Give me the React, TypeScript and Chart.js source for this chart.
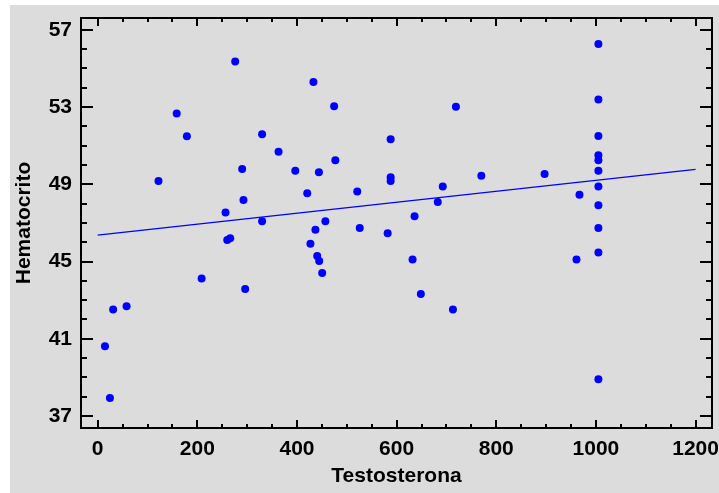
import React, { useEffect, useRef } from "react";
import { Chart, registerables } from "chart.js";

Chart.register(...registerables);

// Data
const testosterona = [
  122, 158.6, 179, 276, 256.6, 260, 266, 290, 292.6, 330, 330, 363, 396.6, 433, 420.6, 444,
  474.6, 477, 457, 437, 427, 440.6, 444.6, 450.6, 208.6, 296, 31, 58, 14.6, 24.6, 521, 526,
  588, 588, 588, 719, 770, 897, 692.6, 682.6, 636, 582, 967, 1005, 1005, 1005, 1005, 1005,
  1005, 1005, 1005, 1005, 1005, 1005, 632, 648.6, 713, 961,
];
const hematocrito = [
  49.17, 52.66, 51.49, 55.36, 47.54, 46.11, 46.2, 49.79, 48.18, 51.59, 47.08, 50.69, 49.7,
  54.29, 48.53, 49.62, 53.04, 50.24, 47.09, 46.64, 45.92, 45.29, 45.03, 44.4, 44.12, 43.58,
  42.51, 42.68, 40.61, 37.93, 48.63, 46.73, 51.33, 49.36, 49.17, 53.02, 49.44, 49.53, 48.89,
  48.08, 47.35, 46.47, 48.46, 56.27, 53.39, 51.5, 50.5, 50.24, 49.7, 48.89, 47.91, 46.73,
  45.47, 38.91, 45.11, 43.32, 42.51, 45.11,
];
// Fitted line end points
const fitX = [0, 1200];
const fitY = [46.37, 49.77];

const xTickValues = [0, 200, 400, 600, 800, 1000, 1200];
const yTickValues = [37, 41, 45, 49, 53, 57];
const X_MINOR_STEP = 50;
const Y_MINOR_STEP = 1;

const FONT = '"Liberation Sans", Arial, sans-serif';

const frameTicks = {
  id: "frameTicks",
  afterDatasetsDraw(chart: any) {
    const { ctx, chartArea: a, scales } = chart;
    const x = scales.x;
    const y = scales.y;
    ctx.save();
    ctx.strokeStyle = "#000";
    ctx.lineWidth = 2;
    ctx.beginPath();
    const xStart = Math.ceil(x.min / X_MINOR_STEP) * X_MINOR_STEP;
    for (let v = xStart; v <= x.max; v += X_MINOR_STEP) {
      const px = Math.round(x.getPixelForValue(v));
      const major = xTickValues.includes(v);
      const len = major ? 8 : 4;
      ctx.moveTo(px, a.bottom);
      ctx.lineTo(px, a.bottom - len);
      ctx.moveTo(px, a.top);
      ctx.lineTo(px, a.top + len);
    }
    const yStart = Math.ceil(y.min / Y_MINOR_STEP) * Y_MINOR_STEP;
    for (let v = yStart; v <= y.max; v += Y_MINOR_STEP) {
      const py = Math.round(y.getPixelForValue(v));
      const major = yTickValues.includes(v);
      const len = major ? 12 : 6;
      ctx.moveTo(a.left, py);
      ctx.lineTo(a.left + len, py);
      ctx.moveTo(a.right, py);
      ctx.lineTo(a.right - len, py);
    }
    ctx.stroke();
    ctx.strokeRect(a.left, a.top, a.right - a.left, a.bottom - a.top);
    ctx.restore();
  },
};

export default function App() {
  const ref = useRef<HTMLCanvasElement | null>(null);

  useEffect(() => {
    if (!ref.current) return;
    const points = testosterona.map((t, i) => ({ x: t, y: hematocrito[i] }));
    const fit = fitX.map((t, i) => ({ x: t, y: fitY[i] }));
    const chart = new Chart(ref.current, {
      type: "scatter",
      data: {
        datasets: [
          {
            type: "line",
            data: fit,
            borderColor: "#0000ff",
            borderWidth: 1.3,
            pointRadius: 0,
            fill: false,
            order: 2,
          } as any,
          {
            data: points,
            backgroundColor: "#0000ff",
            borderColor: "#0000ff",
            borderWidth: 0,
            pointRadius: 4,
            order: 1,
          },
        ],
      },
      options: {
        animation: false,
        responsive: false,
        devicePixelRatio: 1,
        layout: { padding: { left: 0, right: 7, top: 13, bottom: 0 } },
        plugins: { legend: { display: false }, tooltip: { enabled: false } },
        scales: {
          x: {
            type: "linear",
            min: -33.5,
            max: 1233,
            grid: { display: false, drawTicks: false },
            border: { display: false },
            afterBuildTicks: (s: any) => {
              s.ticks = xTickValues.map((v) => ({ value: v }));
            },
            afterFit: (s: any) => {
              s.height = 65;
              s.paddingLeft = 0;
              s.paddingRight = 0;
            },
            ticks: {
              color: "#000",
              padding: 9,
              maxRotation: 0,
              autoSkip: false,
              callback: (v: any) => String(v),
              font: { family: FONT, size: 21, weight: "bold" },
            },
            title: {
              display: true,
              text: "Testosterona",
              color: "#000",
              padding: { top: 0, bottom: 4 },
              font: { family: FONT, size: 21, weight: "bold" },
            },
          },
          y: {
            type: "linear",
            min: 36.38,
            max: 57.61,
            grid: { display: false, drawTicks: false },
            border: { display: false },
            afterBuildTicks: (s: any) => {
              s.ticks = yTickValues.map((v) => ({ value: v }));
            },
            afterFit: (s: any) => {
              s.width = 71;
              s.paddingTop = 0;
              s.paddingBottom = 0;
            },
            ticks: {
              color: "#000",
              padding: 9,
              autoSkip: false,
              callback: (v: any) => String(v),
              font: { family: FONT, size: 21, weight: "bold" },
            },
            title: {
              display: true,
              text: "Hematocrito",
              color: "#000",
              padding: { top: 2, bottom: 0 },
              font: { family: FONT, size: 21, weight: "bold" },
            },
          },
        },
      },
      plugins: [frameTicks],
    });
    return () => chart.destroy();
  }, []);

  return (
    <div style={{ position: "absolute", left: 0, top: 0, width: 719, height: 493, background: "#fff" }}>
      <div style={{ position: "absolute", left: 10, top: 5, width: 709, height: 488, background: "#dcdcdc" }}>
        <canvas ref={ref} width={709} height={488} style={{ display: "block" }} />
      </div>
    </div>
  );
}
